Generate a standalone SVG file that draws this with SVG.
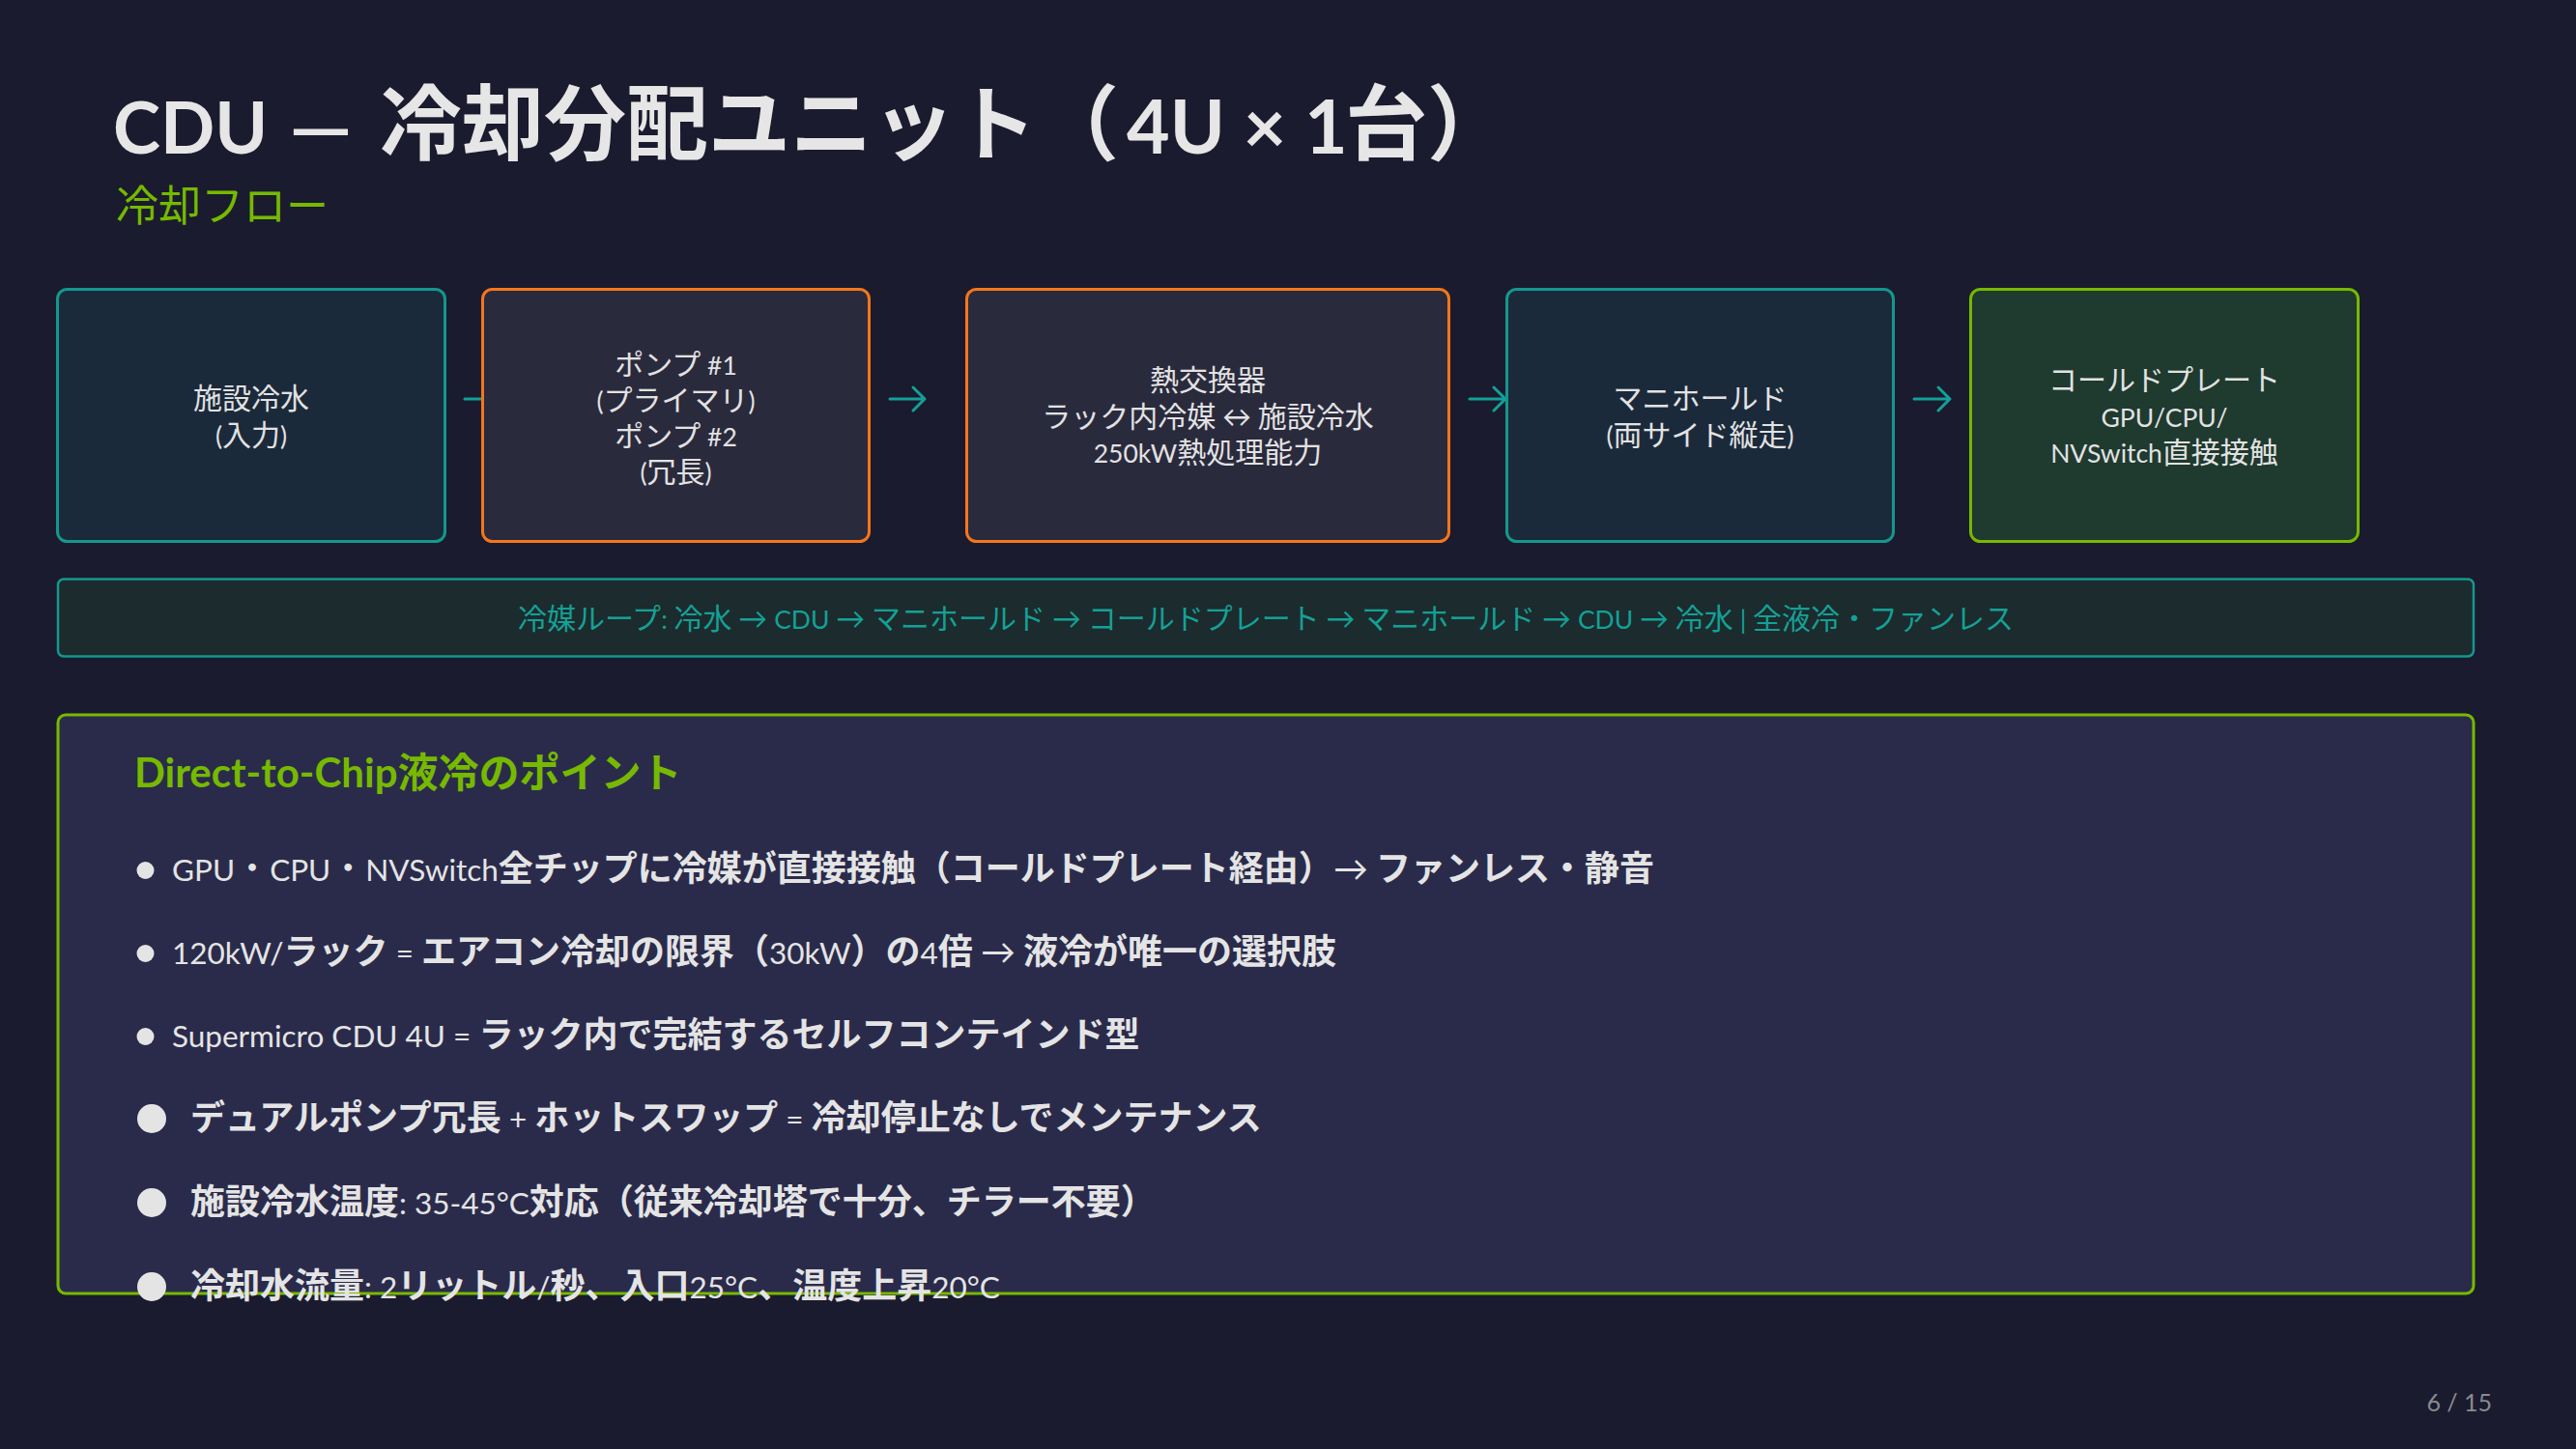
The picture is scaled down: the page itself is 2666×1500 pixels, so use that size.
<svg xmlns="http://www.w3.org/2000/svg" width="2666" height="1500" viewBox="0 0 2666 1500">
<style>
text{font-family:Lato,"Noto Sans CJK JP",sans-serif}
.nt{font-size:30px;fill:#e2e2e2;text-anchor:middle}
.nt .l{font-size:26.5px}
.teal{fill:#1b2a3b;stroke:#14978e;stroke-width:3}
.orng{fill:#2a2a3d;stroke:#f5761a;stroke-width:3}
.grn{fill:#1f3a2f;stroke:#76b900;stroke-width:3}
.arr{fill:none;stroke:#14a096;stroke-width:3;stroke-linecap:round;stroke-linejoin:round}
.it{font-size:36px;fill:#e4e4e4;font-weight:700}
.it .r{font-weight:400;font-size:31.5px}
.it .a{font-weight:400}
.lp{font-size:30px;fill:#14a096}
.lp .l{font-size:26.5px}
.dot{fill:#e4e4e4}
</style>
<rect width="2666" height="1500" fill="#1a1b2e"/>
<text y="159" font-size="85" font-weight="700" fill="#e6e6e6"><tspan x="117" font-size="74">CDU </tspan><tspan x="299" font-size="74" textLength="66" lengthAdjust="spacingAndGlyphs">—</tspan><tspan x="393">冷却分配ユニット（</tspan><tspan x="1166" font-size="77">4U × 1</tspan><tspan x="1392">台）</tspan></text>
<text x="120" y="229" font-size="44" fill="#76b900">冷却フロー</text>

<g id="connectors">
<path class="arr" d="M481 413H518M506 401L518 413L506 425"/>
<path class="arr" d="M921 413H957M945 401L957 413L945 425"/>
<path class="arr" d="M1521 413H1558M1546 401L1558 413L1546 425"/>
<path class="arr" d="M1981 413H2018M2006 401L2018 413L2006 425"/>
</g>

<g id="n1"><rect class="teal" x="59.5" y="299.5" width="401" height="261" rx="10"/>
<text class="nt"><tspan x="260" y="423">施設冷水</tspan><tspan x="260" y="461"><tspan class="l">(</tspan>入力<tspan class="l">)</tspan></tspan></text></g>
<g id="n2"><rect class="orng" x="499.5" y="299.5" width="400" height="261" rx="10"/>
<text class="nt"><tspan x="699.5" y="388">ポンプ<tspan class="l"> #1</tspan></tspan><tspan x="699.5" y="425"><tspan class="l">(</tspan>プライマリ<tspan class="l">)</tspan></tspan><tspan x="699.5" y="462">ポンプ<tspan class="l"> #2</tspan></tspan><tspan x="699.5" y="499"><tspan class="l">(</tspan>冗長<tspan class="l">)</tspan></tspan></text></g>
<g id="n3"><rect class="orng" x="1000.5" y="299.5" width="499" height="261" rx="10"/>
<text class="nt"><tspan x="1250" y="404">熱交換器</tspan><tspan x="1250" y="442">ラック内冷媒<tspan class="l"> </tspan>↔<tspan class="l"> </tspan>施設冷水</tspan><tspan x="1250" y="479"><tspan class="l">250kW</tspan>熱処理能力</tspan></text></g>
<g id="n4"><rect class="teal" x="1559.5" y="299.5" width="400" height="261" rx="10"/>
<text class="nt"><tspan x="1759.5" y="423">マニホールド</tspan><tspan x="1759.5" y="461"><tspan class="l">(</tspan>両サイド縦走<tspan class="l">)</tspan></tspan></text></g>
<g id="n5"><rect class="grn" x="2039.5" y="299.5" width="401" height="261" rx="10"/>
<text class="nt"><tspan x="2240" y="404">コールドプレート</tspan><tspan x="2240" y="442" class="l">GPU/CPU/</tspan><tspan x="2240" y="479"><tspan class="l">NVSwitch</tspan>直接接触</tspan></text></g>

<g id="loop"><rect x="60" y="599.5" width="2500" height="80" rx="6" fill="#1c2b2d" stroke="#14978e" stroke-width="2.5"/>
<text class="lp" x="1310" y="651" text-anchor="middle">冷媒ループ<tspan class="l">: </tspan>冷水<tspan class="l"> </tspan>→<tspan class="l"> CDU </tspan>→<tspan class="l"> </tspan>マニホールド<tspan class="l"> </tspan>→<tspan class="l"> </tspan>コールドプレート<tspan class="l"> </tspan>→<tspan class="l"> </tspan>マニホールド<tspan class="l"> </tspan>→<tspan class="l"> CDU </tspan>→<tspan class="l"> </tspan>冷水<tspan class="l"> | </tspan>全液冷・ファンレス</text></g>

<g id="points"><rect x="60" y="740" width="2500" height="599" rx="8" fill="#2a2b4b" stroke="#76b900" stroke-width="3"/>
<text x="139" y="815" font-size="42" font-weight="700" fill="#76b900">Direct-to-Chip液冷のポイント</text>
<circle class="dot" cx="150.5" cy="901" r="9"/>
<circle class="dot" cx="150.5" cy="987" r="9"/>
<circle class="dot" cx="150.5" cy="1073" r="9"/>
<circle class="dot" cx="157" cy="1158" r="15"/>
<circle class="dot" cx="157" cy="1245" r="15"/>
<circle class="dot" cx="157" cy="1332" r="15"/>
<text class="it" x="178" y="912"><tspan class="r">GPU</tspan><tspan class="a">・</tspan><tspan class="r">CPU</tspan><tspan class="a">・</tspan><tspan class="r">NVSwitch</tspan>全チップに冷媒が直接接触（コールドプレート経由）<tspan class="a">→</tspan><tspan class="r"> </tspan>ファンレス・静音</text>
<text class="it" x="178" y="998"><tspan class="r">120kW/</tspan>ラック<tspan class="r"> = </tspan>エアコン冷却の限界（<tspan class="r">30kW</tspan>）の<tspan class="r">4</tspan>倍<tspan class="r"> </tspan><tspan class="a">→</tspan><tspan class="r"> </tspan>液冷が唯一の選択肢</text>
<text class="it" x="178" y="1084"><tspan class="r">Supermicro CDU 4U = </tspan>ラック内で完結するセルフコンテインド型</text>
<text class="it" x="197" y="1170">デュアルポンプ冗長<tspan class="r"> + </tspan>ホットスワップ<tspan class="r"> = </tspan>冷却停止なしでメンテナンス</text>
<text class="it" x="197" y="1257">施設冷水温度<tspan class="r">: 35-45°C</tspan>対応（従来冷却塔で十分、チラー不要）</text>
<text class="it" x="197" y="1344">冷却水流量<tspan class="r">: 2</tspan>リットル<tspan class="r">/</tspan>秒、入口<tspan class="r">25°C</tspan>、温度上昇<tspan class="r">20°C</tspan></text>
</g>
<text x="2579" y="1461" font-size="25" fill="#8a8a92" text-anchor="end">6 / 15</text>
</svg>
